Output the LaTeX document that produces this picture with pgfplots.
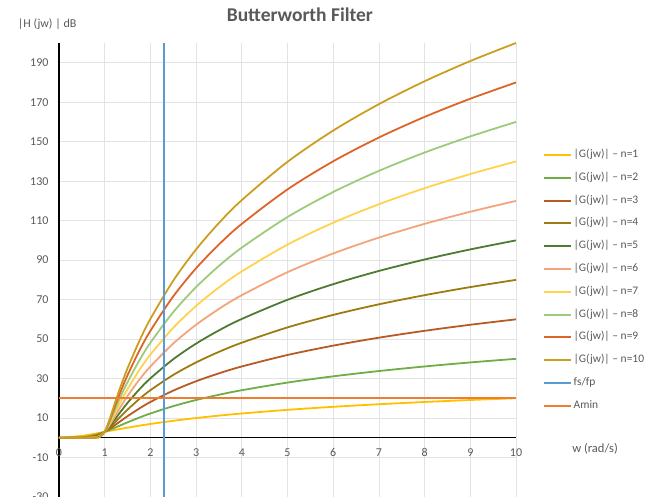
\documentclass[border=0pt]{standalone}
\usepackage{pgfplots}
\pgfplotsset{compat=1.18}
\usepackage{pgfplotstable}
\usepackage{fontspec}
\setmainfont{Carlito}

\definecolor{txtgray}{HTML}{595959}
\definecolor{gridgray}{HTML}{E3E3E3}
\definecolor{cA}{HTML}{FFC000}
\definecolor{cB}{HTML}{70AD47}
\definecolor{cC}{HTML}{B85A23}
\definecolor{cD}{HTML}{9E7B10}
\definecolor{cE}{HTML}{4E7A32}
\definecolor{cF}{HTML}{F4A47A}
\definecolor{cG}{HTML}{FFD34D}
\definecolor{cH}{HTML}{9CCB7A}
\definecolor{cI}{HTML}{DD6428}
\definecolor{cJ}{HTML}{CC9E1F}
\definecolor{cfs}{HTML}{5B9BD5}
\definecolor{camin}{HTML}{ED7D31}

% attenuation in dB
\pgfplotstableread{
w     n1     n2     n3     n4     n5      n6      n7      n8      n9      n10
0     0      0      0      0      0       0       0       0       0       0
0.5   0.969  0.263  0.067  0.017  0.004   0.001   0       0       0       0
0.8   2.148  1.491  1.011  0.673  0.443   0.288   0.187   0.120   0.078   0.050
0.9   2.577  2.191  1.851  1.555  1.299   1.080   0.895   0.739   0.607   0.498
1     3.010  3.010  3.010  3.010  3.010   3.010   3.010   3.010   3.010   3.010
1.1   3.444  3.917  4.415  4.974  5.555   6.168   6.810   7.479   8.169   8.880
1.2   3.874  4.876  6.005  7.243  8.568   9.963   11.411  12.898  14.413  15.948
1.3   4.298  5.862  7.654  9.618  11.699  13.856  16.061  18.296  20.548  22.811
1.4   4.713  6.850  9.309  11.975 14.760  17.611  20.497  23.400  26.313  29.231
1.5   5.119  7.826  10.931 14.254 17.684  21.164  24.668  28.181  31.699  35.220
1.75  6.088  10.162 14.731 19.492 24.320  29.170  34.027  38.887  43.747  48.608
2     6.990  12.304 18.129 24.099 30.107  36.124  42.144  48.165  54.186  60.206
2.5   8.603  16.027 23.894 31.838 39.794  47.753  55.712  63.670  71.629  79.588
3     10.000 19.138 28.633 38.170 47.712  57.255  66.797  76.339  85.882  95.424
3.5   11.222 21.792 32.646 43.525 54.407  65.288  76.170  87.051  97.932  108.814
4     12.304 24.099 36.124 48.165 60.206  72.247  84.288  96.330  108.371 120.412
5     14.150 27.966 41.938 55.918 69.897  83.876  97.856  111.835 125.815 139.794
6     15.682 31.129 46.679 62.252 77.815  93.378  108.941 124.504 140.067 155.630
7     16.990 33.806 50.706 67.608 84.510  101.412 118.314 135.216 152.118 169.020
8     18.129 36.124 54.186 72.247 90.309  108.371 126.433 144.494 162.556 180.618
9     19.138 38.170 57.255 76.339 95.424  114.509 133.594 152.679 171.764 190.849
10    20.043 40.000 60.000 80.000 100.000 120.000 140.000 160.000 180.000 200.000
}\bw

\begin{document}
\begin{tikzpicture}
\begin{axis}[
  at={(0pt,0pt)}, anchor=south west,
  scale only axis, width=457pt, height=454pt,
  xmin=0, xmax=10, ymin=-30, ymax=200,
  clip=false,
  axis x line=middle,
  axis y line=left,
  axis line style={black, line width=1.3pt, -},
  xtick={0,...,10},
  ytick={-30,-10,...,190},
  grid=major,
  grid style={gridgray, line width=0.8pt},
  major tick length=0pt,
  /pgf/number format/assume math mode=true,
  tick label style={font=\fontsize{12}{14}\selectfont, text=txtgray},
  yticklabel style={anchor=east, xshift=-7pt},
  xticklabel style={anchor=north, yshift=-7pt},
  every axis plot/.append style={line width=1.8pt, smooth},
  legend cell align=left,
  legend style={at={(1.059,0.769)}, anchor=north west, draw=none, fill=none,
    font=\fontsize{11.5}{13}\selectfont, text=txtgray, inner sep=0pt,
    nodes={text height=8pt, text depth=3pt, inner sep=1.5pt},
    row sep=8.8pt},
  legend image code/.code={\draw[#1, line width=2pt] (0pt,0pt) -- (27pt,0pt);},
]
\addplot[cA] table[x=w, y=n1] {\bw};
\addlegendentry{|G(jw)| -- n=1}
\addplot[cB] table[x=w, y=n2] {\bw};
\addlegendentry{|G(jw)| -- n=2}
\addplot[cC] table[x=w, y=n3] {\bw};
\addlegendentry{|G(jw)| -- n=3}
\addplot[cD] table[x=w, y=n4] {\bw};
\addlegendentry{|G(jw)| -- n=4}
\addplot[cE] table[x=w, y=n5] {\bw};
\addlegendentry{|G(jw)| -- n=5}
\addplot[cF] table[x=w, y=n6] {\bw};
\addlegendentry{|G(jw)| -- n=6}
\addplot[cG] table[x=w, y=n7] {\bw};
\addlegendentry{|G(jw)| -- n=7}
\addplot[cH] table[x=w, y=n8] {\bw};
\addlegendentry{|G(jw)| -- n=8}
\addplot[cI] table[x=w, y=n9] {\bw};
\addlegendentry{|G(jw)| -- n=9}
\addplot[cJ] table[x=w, y=n10] {\bw};
\addlegendentry{|G(jw)| -- n=10}
\addplot[cfs, sharp plot] coordinates {(2.3,-30) (2.3,200)};
\addlegendentry{fs/fp}
\addplot[camin, sharp plot] coordinates {(0,20) (10,20)};
\addlegendentry{Amin}

% the 0 tick label that the centred x axis leaves out
\node[text=txtgray, font=\fontsize{12}{14}\selectfont, anchor=north, yshift=-7pt] at (axis cs:0,0) {0};
\node[text=txtgray, font=\fontsize{19.5}{22}\selectfont\bfseries] at (axis cs:5.27,214.4) {Butterworth Filter};
\node[text=txtgray, font=\fontsize{12}{14}\selectfont] at (axis cs:-0.26,209.4) {|H (jw) | dB};
\node[text=txtgray, font=\fontsize{12.5}{14}\selectfont] at (axis cs:11.73,-5.7) {w (rad/s)};
\end{axis}
\pgfresetboundingbox
\path[use as bounding box] (-59pt,0pt) rectangle (603pt,497pt);
\end{tikzpicture}
\end{document}
